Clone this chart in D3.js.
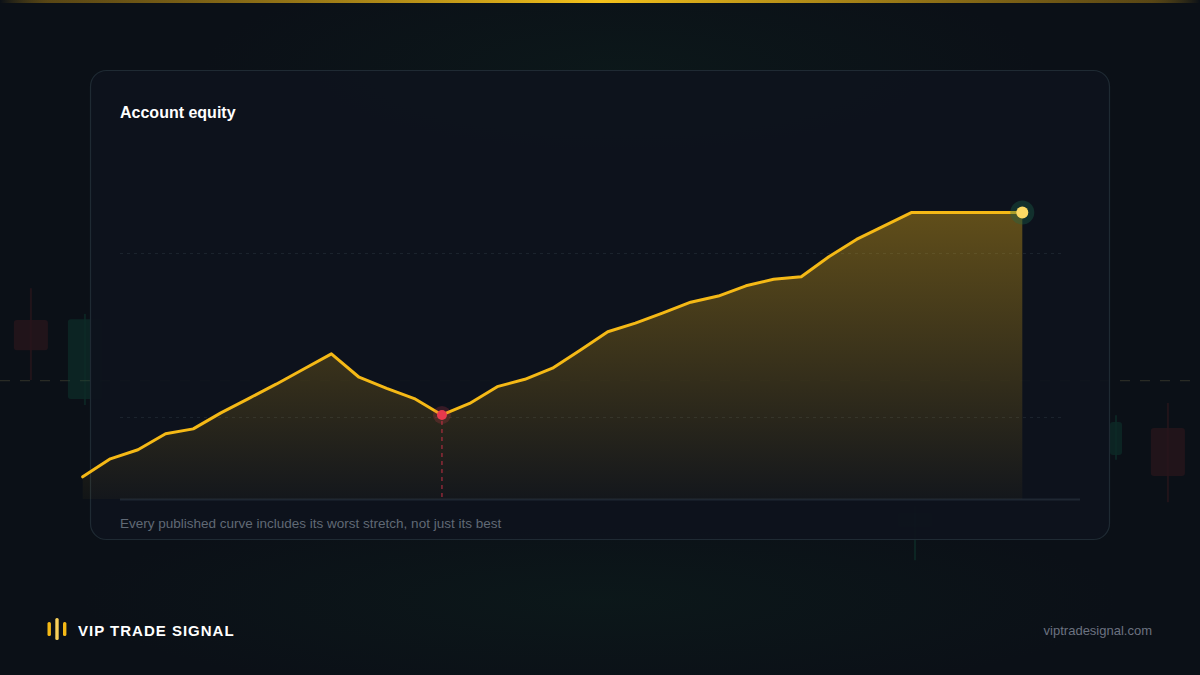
<!DOCTYPE html>
<html>
<head>
<meta charset="utf-8">
<script src="https://cdn.jsdelivr.net/npm/d3@7"></script>
<style>
  html, body { margin: 0; padding: 0; background: #0b1017; }
  svg { display: block; font-family: "Liberation Sans", Arial, sans-serif; }
</style>
</head>
<body>
<div id="chart"></div>
<script>
// equity curve, one point per period (normalised, start ~ 95)
var periods = d3.range(35);
var equity = [95.4, 99.8, 102.0, 105.9, 107.1, 111.0, 114.5, 118.0, 121.7, 125.4,
              119.7, 117.0, 114.5, 110.5, 113.3, 117.4, 119.2, 121.9, 126.3, 130.8,
              132.9, 135.4, 138.0, 139.5, 142.0, 143.6, 144.2, 149.1, 153.3, 156.6,
              159.9, 159.9, 159.9, 159.9, 159.9];
var gridValues = [110, 150];
var worstIndex = 13;

// faint candles behind the card
var bgSlots  = [1.03, 2.83, 30.5, 37.2, 38.93];
var bgOpen   = [52.6, 40.9, 22.0, 32.6, 36.6];
var bgClose  = [48.1, 52.7, 24.0, 37.5, 29.5];
var bgHigh   = [57.3, 53.5, 25.0, 38.5, 40.3];
var bgLow    = [43.7, 40.0, 17.0, 31.9, 25.6];
var bgLevel  = 43.6;

var W = 1200, H = 675;

var svg = d3.select("#chart")
  .append("svg")
  .attr("width", W)
  .attr("height", H);

var defs = svg.append("defs");

var topBar = defs.append("linearGradient").attr("id", "topbar");
topBar.append("stop").attr("offset", "0%").attr("stop-color", "#f5b916").attr("stop-opacity", 0);
topBar.append("stop").attr("offset", "4%").attr("stop-color", "#a87d12").attr("stop-opacity", 0.5);
topBar.append("stop").attr("offset", "50%").attr("stop-color", "#f5c21b").attr("stop-opacity", 1);
topBar.append("stop").attr("offset", "96%").attr("stop-color", "#a87d12").attr("stop-opacity", 0.5);
topBar.append("stop").attr("offset", "100%").attr("stop-color", "#f5b916").attr("stop-opacity", 0);

var glow = defs.append("radialGradient").attr("id", "glow");
glow.append("stop").attr("offset", "0%").attr("stop-color", "#0f3a26").attr("stop-opacity", 0.18);
glow.append("stop").attr("offset", "100%").attr("stop-color", "#0f3a26").attr("stop-opacity", 0);

var areaGrad = defs.append("linearGradient")
  .attr("id", "areaFill")
  .attr("gradientUnits", "userSpaceOnUse")
  .attr("x1", 0).attr("x2", 0).attr("y1", 212).attr("y2", 499);
areaGrad.append("stop").attr("offset", "0%").attr("stop-color", "#f5b916").attr("stop-opacity", 0.36);
areaGrad.append("stop").attr("offset", "100%").attr("stop-color", "#f5b916").attr("stop-opacity", 0.03);

// background
svg.append("rect").attr("width", W).attr("height", H).attr("fill", "#0b1017");
svg.append("ellipse").attr("cx", 620).attr("cy", 70).attr("rx", 420).attr("ry", 110).attr("fill", "url(#glow)");
svg.append("ellipse").attr("cx", 600).attr("cy", 600).attr("rx", 520).attr("ry", 100).attr("fill", "url(#glow)");
svg.append("rect").attr("x", 0).attr("y", 0).attr("width", W).attr("height", 3).attr("fill", "url(#topbar)");

var bgX = d3.scaleLinear().domain([0, 40]).range([0, W]);
var bgY = d3.scaleLinear().domain([0, 100]).range([H, 0]);

svg.append("line")
  .attr("x1", 0).attr("x2", W)
  .attr("y1", bgY(bgLevel)).attr("y2", bgY(bgLevel))
  .attr("stroke", "#6f6a45").attr("stroke-opacity", 0.3)
  .attr("stroke-width", 1.2).attr("stroke-dasharray", "10,10");

var candles = svg.append("g").attr("class", "bg-candles").attr("opacity", 0.45);
bgSlots.forEach(function(s, i) {
  var up = bgClose[i] > bgOpen[i];
  var col = up ? "#0f4a3a" : "#4a1c20";
  var cx = bgX(s);
  var bw = i === 3 ? 12 : 34;
  candles.append("line")
    .attr("x1", cx).attr("x2", cx)
    .attr("y1", bgY(bgHigh[i])).attr("y2", bgY(bgLow[i]))
    .attr("stroke", col).attr("stroke-width", 2).attr("stroke-opacity", 0.8);
  candles.append("rect")
    .attr("x", cx - bw / 2)
    .attr("y", bgY(Math.max(bgOpen[i], bgClose[i])))
    .attr("width", bw)
    .attr("height", Math.abs(bgY(bgOpen[i]) - bgY(bgClose[i])))
    .attr("rx", 3)
    .attr("fill", col).attr("fill-opacity", 0.8);
});

// card
svg.append("rect")
  .attr("x", 90.5).attr("y", 70.5)
  .attr("width", 1019).attr("height", 469)
  .attr("rx", 16)
  .attr("fill", "#0e131c").attr("fill-opacity", 0.95)
  .attr("stroke", "#1f2a33").attr("stroke-width", 1.2);

svg.append("text")
  .attr("x", 120).attr("y", 118)
  .attr("fill", "#ffffff")
  .attr("font-size", 16).attr("font-weight", 700)
  .text("Account equity");

svg.append("text")
  .attr("x", 120).attr("y", 528)
  .attr("fill", "#606975")
  .attr("font-size", 13.5)
  .text("Every published curve includes its worst stretch, not just its best");

// scales
var x = d3.scaleLinear().domain([0, 34]).range([82.7, 1022.3]);
var y = d3.scaleLinear().domain([90, 170]).range([499, 171]);

// gridlines
var grid = svg.append("g")
  .attr("transform", "translate(120,0)")
  .call(d3.axisLeft(y).tickValues(gridValues).tickSize(-945).tickFormat(""));
grid.select(".domain").remove();
grid.selectAll(".tick line")
  .attr("stroke", "#1b232d")
  .attr("stroke-dasharray", "3,4");

// baseline
svg.append("line")
  .attr("x1", 120).attr("x2", 1080)
  .attr("y1", 499.5).attr("y2", 499.5)
  .attr("stroke", "#1f2732").attr("stroke-width", 2);

var area = d3.area()
  .x(function(d, i) { return x(periods[i]); })
  .y0(y(90))
  .y1(function(d) { return y(d); });

svg.append("path")
  .datum(equity)
  .attr("d", area)
  .attr("fill", "url(#areaFill)");

var line = d3.line()
  .x(function(d, i) { return x(periods[i]); })
  .y(function(d) { return y(d); });

svg.append("path")
  .datum(equity)
  .attr("d", line)
  .attr("fill", "none")
  .attr("stroke", "#f5b916")
  .attr("stroke-width", 3)
  .attr("stroke-linejoin", "round")
  .attr("stroke-linecap", "round");

// worst point
svg.append("line")
  .attr("x1", x(worstIndex)).attr("x2", x(worstIndex))
  .attr("y1", y(equity[worstIndex]) + 6).attr("y2", y(90))
  .attr("stroke", "#c03043").attr("stroke-opacity", 0.8)
  .attr("stroke-width", 1.3).attr("stroke-dasharray", "4,4");
svg.append("circle")
  .attr("cx", x(worstIndex)).attr("cy", y(equity[worstIndex]))
  .attr("r", 9).attr("fill", "#e23a4e").attr("fill-opacity", 0.2);
svg.append("circle")
  .attr("cx", x(worstIndex)).attr("cy", y(equity[worstIndex]))
  .attr("r", 5).attr("fill", "#e8394d");

// last point
var last = equity.length - 1;
svg.append("circle")
  .attr("cx", x(last)).attr("cy", y(equity[last]))
  .attr("r", 12).attr("fill", "#1c6b4c").attr("fill-opacity", 0.35);
svg.append("circle")
  .attr("cx", x(last)).attr("cy", y(equity[last]))
  .attr("r", 6).attr("fill", "#fcd964");

// footer brand
var logo = svg.append("g").attr("class", "logo");
logo.append("rect").attr("x", 47.5).attr("y", 622).attr("width", 3.4).attr("height", 14).attr("rx", 1.5).attr("fill", "#f5b916");
logo.append("rect").attr("x", 55.3).attr("y", 618).attr("width", 3.4).attr("height", 22).attr("rx", 1.5).attr("fill", "#f7cf5a");
logo.append("rect").attr("x", 63).attr("y", 622).attr("width", 3.4).attr("height", 14).attr("rx", 1.5).attr("fill", "#f5b916");

svg.append("text")
  .attr("x", 78).attr("y", 635.5)
  .attr("fill", "#ffffff")
  .attr("font-size", 15).attr("font-weight", 700)
  .attr("letter-spacing", 1)
  .text("VIP TRADE SIGNAL");

svg.append("text")
  .attr("x", 1152).attr("y", 635)
  .attr("text-anchor", "end")
  .attr("fill", "#6b7280")
  .attr("font-size", 13)
  .text("viptradesignal.com");
</script>
</body>
</html>
